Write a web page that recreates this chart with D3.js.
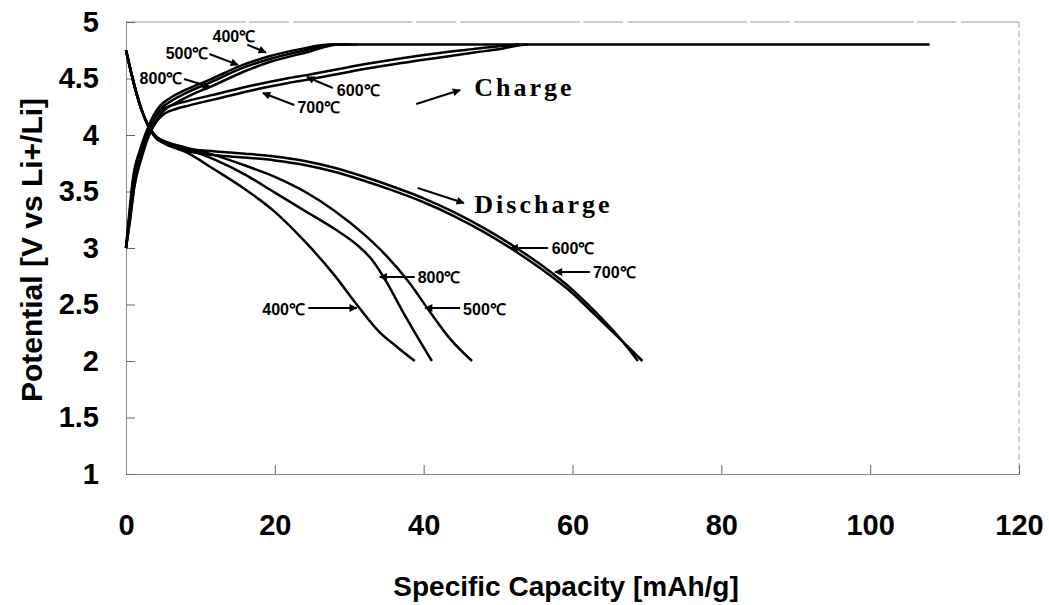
<!DOCTYPE html>
<html>
<head>
<meta charset="utf-8">
<script src="https://cdn.jsdelivr.net/npm/d3@7"></script>
<style>
  body { margin: 0; background: #fff; }
  text { font-family: Arial, "Liberation Sans", sans-serif; font-weight: bold; }
</style>
</head>
<body>
<div id="viz"></div>
<script>
// values: [capacity mAh/g, potential V]
const charge400 = [[0,3.0],[0.5,3.35],[0.9,3.6],[1.9,3.87],[2.8,4.04],[3.6,4.16],[4.6,4.26],[6,4.33],[7.7,4.39],[11.3,4.49],[15.3,4.61],[18.9,4.69],[23.4,4.76],[27.5,4.8],[108,4.8]];
const charge500 = [[0,3.0],[0.5,3.3],[1,3.58],[2,3.85],[3,4.03],[3.8,4.15],[4.8,4.24],[6.3,4.31],[8,4.37],[11.5,4.47],[15.5,4.59],[19.2,4.67],[23.8,4.745],[28,4.8],[30,4.8]];
const charge800 = [[0,3.0],[0.6,3.28],[1.1,3.55],[2.1,3.82],[3.1,4.0],[4,4.12],[5,4.21],[6.6,4.28],[8.3,4.34],[11.8,4.44],[15.8,4.56],[19.5,4.65],[24.2,4.73],[28.6,4.8],[31,4.8]];
const charge600 = [[0,3.0],[0.5,3.3],[1,3.56],[2,3.84],[3,4.03],[4,4.16],[5,4.23],[6.5,4.27],[8.2,4.3],[12.6,4.37],[17.1,4.44],[21.6,4.5],[24.3,4.53],[32.4,4.63],[41.3,4.72],[46.6,4.76],[51.6,4.795],[53,4.8]];
const charge700 = [[0,3.0],[0.6,3.28],[1.1,3.53],[2.1,3.8],[3.1,4.0],[4.1,4.12],[5.2,4.19],[6.7,4.23],[8.4,4.26],[12.8,4.33],[17.3,4.4],[21.8,4.46],[24.5,4.49],[32.6,4.59],[41.5,4.68],[46.8,4.73],[51,4.77],[52.5,4.79],[54,4.8]];

const discharge400 = [[0,4.75],[1,4.47],[2,4.24],[3,4.08],[3.9,3.98],[5,3.93],[8,3.85],[12,3.69],[16,3.52],[20,3.32],[24,3.06],[28,2.76],[31,2.5],[34,2.26],[36.5,2.12],[38.8,2.0]];
const discharge800 = [[0,4.75],[1,4.47],[2,4.24],[3,4.08],[3.9,3.99],[5,3.94],[8,3.88],[12,3.78],[16,3.65],[20,3.49],[24,3.33],[28,3.17],[31,3.03],[33,2.9],[35,2.7],[37,2.46],[39.1,2.22],[41.1,2.0]];
const discharge500 = [[0,4.75],[1,4.47],[2,4.24],[3,4.08],[3.9,3.99],[5,3.95],[8,3.89],[12,3.82],[16,3.73],[20,3.63],[24,3.5],[28,3.33],[32,3.12],[35,2.93],[38,2.7],[41,2.42],[43.5,2.2],[46.5,2.0]];
const discharge600 = [[0,4.75],[1,4.47],[2,4.24],[3,4.08],[4,3.99],[6,3.92],[8,3.88],[12,3.855],[16,3.835],[20,3.81],[24,3.77],[28,3.71],[32,3.63],[36,3.54],[40,3.44],[44,3.32],[48,3.18],[52,3.02],[56,2.84],[60,2.63],[63,2.44],[66,2.23],[68.8,2.0]];
const discharge700 = [[0,4.75],[1,4.47],[2,4.24],[3,4.08],[4,3.99],[6,3.905],[8,3.86],[12,3.82],[16,3.8],[20,3.775],[24,3.735],[28,3.675],[32,3.595],[36,3.505],[40,3.405],[44,3.285],[48,3.145],[52,2.985],[56,2.805],[60,2.6],[63,2.41],[66.3,2.2],[69.4,2.0]];

const xTicks = [0, 20, 40, 60, 80, 100, 120];
const yTicks = [1, 1.5, 2, 2.5, 3, 3.5, 4, 4.5, 5];

const curves = [charge400, charge500, charge800, charge600, charge700,
  discharge400, discharge800, discharge500, discharge600, discharge700];

// labels with arrows, placed in data units: [text, tx, ty, anchor, x1, y1, x2, y2]
const tempLabels = [
  ["400℃", 14.5, 4.876, "middle", 16.3, 4.80, 18.8, 4.73],
  ["500℃", 8.2, 4.726, "middle", 11.2, 4.717, 15.05, 4.62],
  ["800℃", 4.7, 4.504, "middle", 7.8, 4.496, 11.3, 4.425],
  ["600℃", 31.2, 4.398, "middle", 27.8, 4.416, 24.3, 4.513],
  ["700℃", 25.9, 4.248, "middle", 22.6, 4.265, 18.4, 4.372],
  ["600℃", 57.2, 3.0, "start", 56.7, 3.0, 51.7, 3.0],
  ["700℃", 62.75, 2.788, "start", 62.35, 2.788, 57.65, 2.788],
  ["800℃", 39.2, 2.743, "start", 38.8, 2.743, 34.1, 2.743],
  ["500℃", 45.3, 2.46, "start", 44.9, 2.469, 40.2, 2.469],
  ["400℃", 24.05, 2.46, "end", 24.5, 2.469, 31.0, 2.469]
];
const bigLabels = [
  ["Charge", 46.8, 4.345, 39.0, 4.274, 44.9, 4.398],
  ["Discharge", 46.8, 3.31, 39.2, 3.531, 45.4, 3.398]
];

const margin = {top: 22, right: 30, bottom: 131, left: 126},
  width = 1049 - margin.left - margin.right,
  height = 605 - margin.top - margin.bottom;

const root = d3.select("#viz").append("svg")
  .attr("width", 1049).attr("height", 605);

root.append("defs").append("marker")
  .attr("id", "head")
  .attr("viewBox", "0 0 10 10")
  .attr("refX", 9).attr("refY", 5)
  .attr("markerWidth", 10).attr("markerHeight", 8)
  .attr("markerUnits", "userSpaceOnUse")
  .attr("orient", "auto")
  .append("path").attr("d", "M0,0 L10,5 L0,10 Z").attr("fill", "#000");

const svg = root.append("g")
  .attr("transform", `translate(${margin.left}, ${margin.top})`);

const x = d3.scaleLinear().domain([0, 120]).range([0, width]);
const y = d3.scaleLinear().domain([1, 5]).range([height, 0]);

// frame (top and right are faint in the scan)
svg.append("line").attr("x1", 0).attr("x2", width).attr("y1", 0).attr("y2", 0)
  .attr("stroke", "#999").attr("stroke-dasharray", "120,3,40,4");
svg.append("line").attr("x1", width).attr("x2", width).attr("y1", 0).attr("y2", height)
  .attr("stroke", "#aaa").attr("stroke-dasharray", "6,3");

svg.append("g")
  .attr("transform", `translate(0, ${height})`)
  .call(d3.axisBottom(x).tickValues(xTicks).tickSize(-9).tickPadding(40).tickFormat(d3.format("d")))
  .call(g => g.select(".domain").attr("stroke", "#888"))
  .call(g => g.selectAll(".tick line").attr("stroke", "#666"))
  .selectAll("text")
  .style("font-size", "29px")
  .attr("fill", "#000");

svg.append("g")
  .call(d3.axisLeft(y).tickValues(yTicks).tickSize(-9).tickPadding(27).tickFormat(d => String(d)))
  .call(g => g.select(".domain").attr("stroke", "#888"))
  .call(g => g.selectAll(".tick line").attr("stroke", "#666"))
  .selectAll("text")
  .style("font-size", "29px")
  .attr("fill", "#000");

const line = d3.line()
  .x(d => x(d[0]))
  .y(d => y(d[1]))
  .curve(d3.curveMonotoneX);

svg.selectAll(".curve")
  .data(curves)
  .join("path")
  .attr("class", "curve")
  .attr("d", line)
  .attr("fill", "none")
  .attr("stroke", "#000")
  .attr("stroke-width", 2.5);

//temperature labels
tempLabels.forEach(l => {
  svg.append("text")
    .text(l[0])
    .attr("x", x(l[1]))
    .attr("y", y(l[2]))
    .attr("dy", "0.35em")
    .attr("text-anchor", l[3])
    .style("font-size", "16px");
  svg.append("line")
    .attr("x1", x(l[4])).attr("y1", y(l[5]))
    .attr("x2", x(l[6])).attr("y2", y(l[7]))
    .attr("stroke", "#000").attr("stroke-width", 2)
    .attr("marker-end", "url(#head)");
});

bigLabels.forEach(l => {
  svg.append("text")
    .text(l[0])
    .attr("x", x(l[1]))
    .attr("y", y(l[2]))
    .style("font-family", "'Times New Roman', 'Liberation Serif', serif")
    .style("font-size", "26px")
    .style("letter-spacing", "3px");
  svg.append("line")
    .attr("x1", x(l[3])).attr("y1", y(l[4]))
    .attr("x2", x(l[5])).attr("y2", y(l[6]))
    .attr("stroke", "#000").attr("stroke-width", 2)
    .attr("marker-end", "url(#head)");
});

// axis titles
root.append("text")
  .text("Specific Capacity [mAh/g]")
  .attr("x", 566)
  .attr("y", 596)
  .attr("text-anchor", "middle")
  .style("font-size", "28px");

root.append("text")
  .text("Potential [V vs Li+/Li]")
  .attr("transform", "translate(42, 250) rotate(-90)")
  .attr("text-anchor", "middle")
  .style("font-size", "30px");
</script>
</body>
</html>
